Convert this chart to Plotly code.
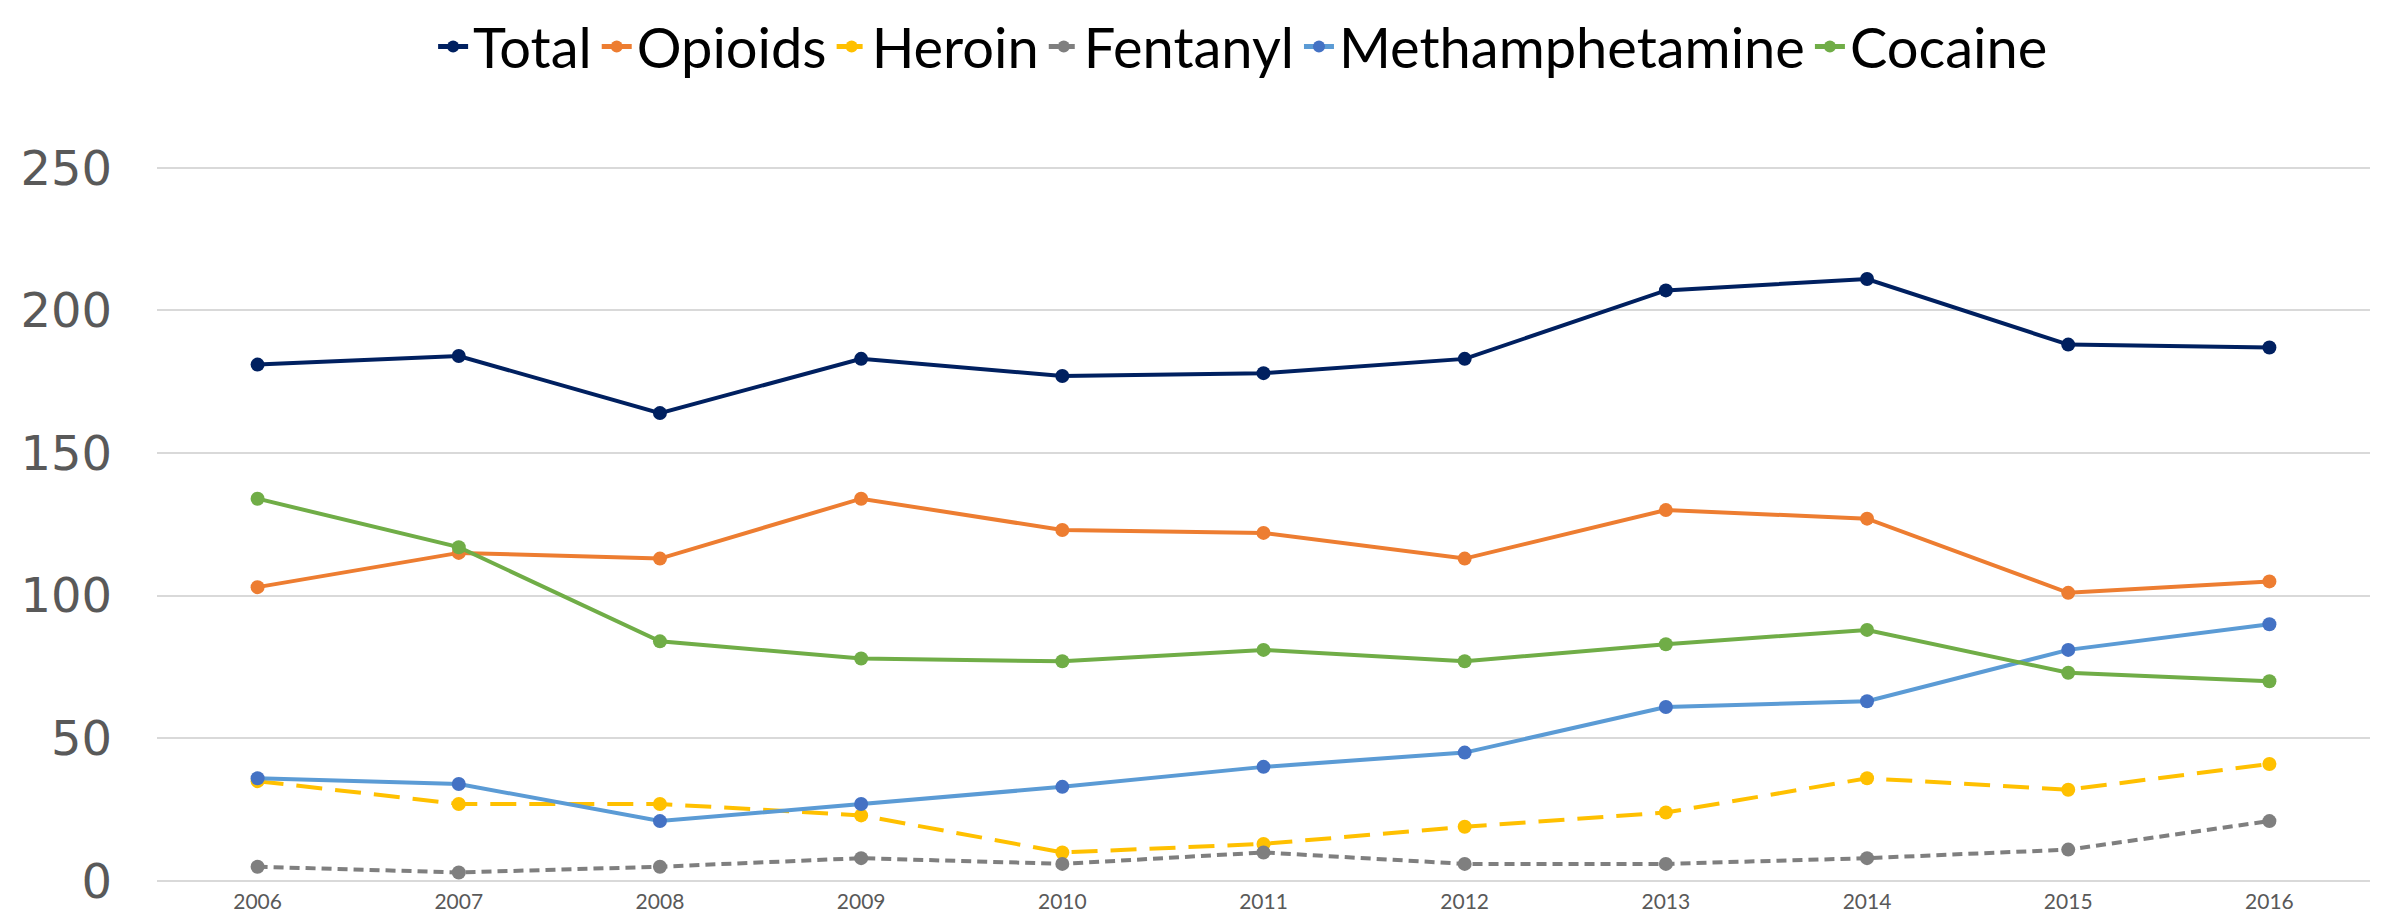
import plotly.graph_objects as go

years = ["2006", "2007", "2008", "2009", "2010", "2011", "2012", "2013", "2014", "2015", "2016"]
total = [181, 184, 164, 183, 177, 178, 183, 207, 211, 188, 187]
opioids = [103, 115, 113, 134, 123, 122, 113, 130, 127, 101, 105]
heroin = [35, 27, 27, 23, 10, 13, 19, 24, 36, 32, 41]
fentanyl = [5, 3, 5, 8, 6, 10, 6, 6, 8, 11, 21]
meth = [36, 34, 21, 27, 33, 40, 45, 61, 63, 81, 90]
cocaine = [134, 117, 84, 78, 77, 81, 77, 83, 88, 73, 70]
y_ticks = [0, 50, 100, 150, 200, 250]

series = [
    ("Total", total, "#002060", "#002060", "solid"),
    ("Opioids", opioids, "#ED7D31", "#ED7D31", "solid"),
    ("Heroin", heroin, "#FFC000", "#FFC000", "26px,13px"),
    ("Fentanyl", fentanyl, "#7F7F7F", "#7F7F7F", "10px,6px"),
    ("Methamphetamine", meth, "#5B9BD5", "#4472C4", "solid"),
    ("Cocaine", cocaine, "#70AD47", "#70AD47", "solid"),
]

fig = go.Figure()
for name, vals, lc, mc, dash in series:
    fig.add_trace(go.Scatter(
        x=years, y=vals, name=name, mode="lines+markers",
        line=dict(color=lc, width=4, dash=dash),
        marker=dict(color=mc, size=14),
    ))

fig.update_layout(
    width=2389, height=917,
    paper_bgcolor="white", plot_bgcolor="white",
    margin=dict(l=148, r=27, t=158, b=39),
    showlegend=True,
    legend=dict(
        orientation="h", xref="container", yref="container",
        x=0.517, xanchor="center", y=0.958, yanchor="middle",
        font=dict(family="Lato", size=56, color="#000000"),
        itemsizing="constant", tracegroupgap=0,
    ),
    xaxis=dict(
        type="category", range=[-0.5, 10.5],
        showgrid=False, showline=False, zeroline=False,
        tickfont=dict(family="Lato", size=21, color="#595959"),
        ticks="", ticklabelstandoff=6,
    ),
    yaxis=dict(
        range=[0, 250.6], tickvals=y_ticks,
        showgrid=True, gridcolor="#D9D9D9", gridwidth=2,
        zeroline=True, zerolinecolor="#D9D9D9", zerolinewidth=2,
        showline=False,
        tickfont=dict(family="DejaVu Sans", size=48, color="#595959"),
        ticks="", ticklabelstandoff=44,
    ),
)

fig.write_html("out.html")
